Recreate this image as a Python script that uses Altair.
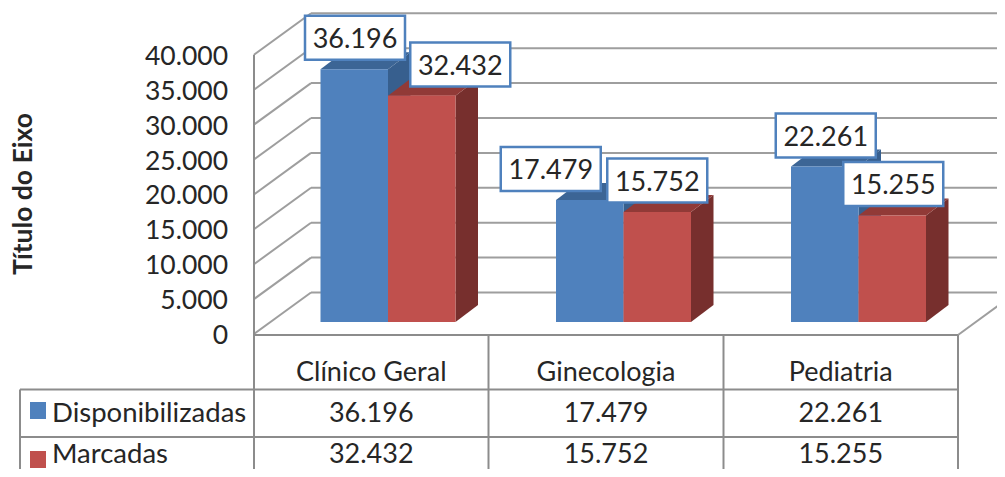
import altair as alt
import pandas as pd

categories = ["Clínico Geral", "Ginecologia", "Pediatria"]
series_names = ["Disponibilizadas", "Marcadas"]
disponibilizadas = [36196, 17479, 22261]
marcadas = [32432, 15752, 15255]
y_ticks = [0, 5000, 10000, 15000, 20000, 25000, 30000, 35000, 40000]

W, H = 989, 461
K = 0.00698          # px per unit on the value axis
BAR_BASE = 322.0     # screen y of value 0 at the bars' front
FRONT_BASE = 334.0
BACK_BASE = 292.5
DX_WALL, DX_BAR, DY_BAR = 57, 22.5, 17
BAR_LEFT = [320.5, 556.0, 791.0]
BAR_W = 67.5
TABLE_X = [254, 488.5, 723.5, 958]
TABLE_Y = [335, 389.5, 437, 469]
FONT = "Lato"
TXT = "#262626"
BLUE, RED = "#4F81BD", "#C0504D"
SIDE = {"Disponibilizadas": "#375F8E", "Marcadas": "#772F2D"}
TOP = {"Disponibilizadas": "#3C6595", "Marcadas": "#913A37"}
FRONT = {"Disponibilizadas": BLUE, "Marcadas": RED}
# label box centres, relative to front top-centre of each bar (px)
LABEL_OFF = {
    "Disponibilizadas": [(0.75, -31.5), (-39, -31), (1, -31)],
    "Marcadas": [(38.5, -31), (0, -31.5), (1, -31.5)],
}
BOX_W, BOX_H = 100, 44


def v(px):
    """Value-axis position of a screen y."""
    return (BAR_BASE - px) / K


x_s = alt.Scale(domain=[8, 8 + W], range=[0, W])
y_s = alt.Scale(domain=[v(8 + H), v(8)], range=[H, 0])
X = lambda f="x": alt.X(f"{f}:Q", scale=x_s, axis=None)
Y = lambda f="y": alt.Y(f"{f}:Q", scale=y_s, axis=None)
X2 = lambda f="x2": alt.X2(f"{f}:Q")
Y2 = lambda f="y2": alt.Y2(f"{f}:Q")


def seg(rows, color, width, clip=False):
    df = pd.DataFrame(rows, columns=["x", "y", "x2", "y2"])
    return alt.Chart(df).mark_rule(color=color, strokeWidth=width, clip=clip).encode(
        x=X(), y=Y(), x2=X2(), y2=Y2()
    )


def texts(rows, size=27, align="center", weight="normal", angle=0, dy=2):
    df = pd.DataFrame(rows, columns=["x", "y", "t"])
    return alt.Chart(df).mark_text(
        font=FONT, fontSize=size, align=align, baseline="middle", color=TXT,
        fontWeight=weight, angle=angle, dy=dy,
    ).encode(x=X(), y=Y(), text="t:N")


GRID = "#9E9E9E"
TAB = "#8C8C8C"

layers = []
# back wall grid
layers.append(seg([[254 + DX_WALL, v(BACK_BASE - t * K), 1015, v(BACK_BASE - t * K)] for t in y_ticks],
                  GRID, 2, clip=True))
# left wall diagonals
layers.append(seg([[254, v(FRONT_BASE - t * K), 254 + DX_WALL, v(BACK_BASE - t * K)] for t in y_ticks], GRID, 2))
# floor right edge
layers.append(seg([[958, v(335), 1015, v(293.5)]], GRID, 2, clip=True))

# bars
dv = DY_BAR / K
for off, (s, vals) in enumerate([(series_names[0], disponibilizadas), (series_names[1], marcadas)]):
    side_rows, top_rows, front_rows = [], [], []
    for i, val in enumerate(vals):
        l = BAR_LEFT[i] + off * BAR_W
        r = l + BAR_W
        key = f"{s}-{i}"
        front_rows.append(dict(x=l, x2=r, y=0, y2=val))
        side_rows += [dict(k=key, x=r, y=val, y2=0),
                      dict(k=key, x=r + DX_BAR, y=val + dv, y2=dv)]
        top_rows += [dict(k=key, y=val, x=l, x2=r),
                     dict(k=key, y=val + dv, x=l + DX_BAR, x2=r + DX_BAR)]
    layers.append(alt.Chart(pd.DataFrame(side_rows)).mark_area(color=SIDE[s]).encode(
        x=X(), y=alt.Y("y:Q", scale=y_s, axis=None, stack=None), y2=Y2(), detail="k:N"))
    layers.append(alt.Chart(pd.DataFrame(top_rows)).mark_area(orient="horizontal", color=TOP[s]).encode(
        y=alt.Y("y:Q", scale=y_s, axis=None), x=alt.X("x:Q", scale=x_s, axis=None, stack=None), x2=X2(), detail="k:N"))
    layers.append(alt.Chart(pd.DataFrame(front_rows)).mark_rect(color=FRONT[s]).encode(
        x=X(), x2=X2(), y=Y(), y2=Y2()))

# y axis labels
layers.append(texts([[228, v(FRONT_BASE - t * K), f"{t:,}".replace(",", ".")] for t in y_ticks],
                    size=26.5, align="right"))
layers.append(texts([[24, v(194), "Título do Eixo"]], size=26.5, weight="bold", angle=270, dy=0))

# table
v_lines = [[x, v(TABLE_Y[0]), x, v(TABLE_Y[-1])] for x in TABLE_X[1:]]
v_lines += [[254, v(FRONT_BASE - y_ticks[-1] * K), 254, v(TABLE_Y[-1])], [20, v(TABLE_Y[1]), 20, v(TABLE_Y[-1])]]
h_lines = [[254, v(TABLE_Y[0]), 958, v(TABLE_Y[0])],
           [20, v(TABLE_Y[1]), 958, v(TABLE_Y[1])],
           [20, v(TABLE_Y[2]), 958, v(TABLE_Y[2])]]
layers.append(seg(v_lines + h_lines, TAB, 2))

cx = [(TABLE_X[i] + TABLE_X[i + 1]) / 2 for i in range(3)]
layers.append(texts([[cx[i], v(371), categories[i]] for i in range(3)]))
layers.append(texts([[cx[i], v(412), f"{disponibilizadas[i]:,}".replace(",", ".")] for i in range(3)]))
layers.append(texts([[cx[i], v(455), f"{marcadas[i]:,}".replace(",", ".")] for i in range(3)], dy=0))
layers.append(texts([[52, v(412), series_names[0]]], size=27.5, align="left"))
layers.append(texts([[52, v(455), series_names[1]]], size=27.5, align="left", dy=0))

for s, top, bot in [(series_names[0], 402, 419), (series_names[1], 451, 468)]:
    layers.append(alt.Chart(pd.DataFrame([dict(x=30, x2=46, y=v(top), y2=v(bot))])).mark_rect(color=FRONT[s]).encode(
        x=X(), x2=X2(), y=Y(), y2=Y2()))

# data label boxes
box_rows, lab_rows = [], []
for off, (s, vals) in enumerate([(series_names[0], disponibilizadas), (series_names[1], marcadas)]):
    for i, val in enumerate(vals):
        dx, dy = LABEL_OFF[s][i]
        c = BAR_LEFT[i] + off * BAR_W + BAR_W / 2 + dx
        box_rows.append(dict(x=c - BOX_W / 2, x2=c + BOX_W / 2,
                             y=val - (dy - BOX_H / 2) / K, y2=val - (dy + BOX_H / 2) / K))
        lab_rows.append([c, val - dy / K, f"{val:,}".replace(",", ".")])
layers.append(alt.Chart(pd.DataFrame(box_rows)).mark_rect(
    fill="white", stroke=BLUE, strokeWidth=2.5).encode(x=X(), x2=X2(), y=Y(), y2=Y2()))
layers.append(texts(lab_rows))

chart = alt.layer(*layers).properties(
    width=W, height=H, padding=0, autosize=alt.AutoSizeParams(type="none"),
    background="white",
).configure_view(stroke=None)

chart.save("out.html", embed_options={"renderer": "svg", "actions": False})
